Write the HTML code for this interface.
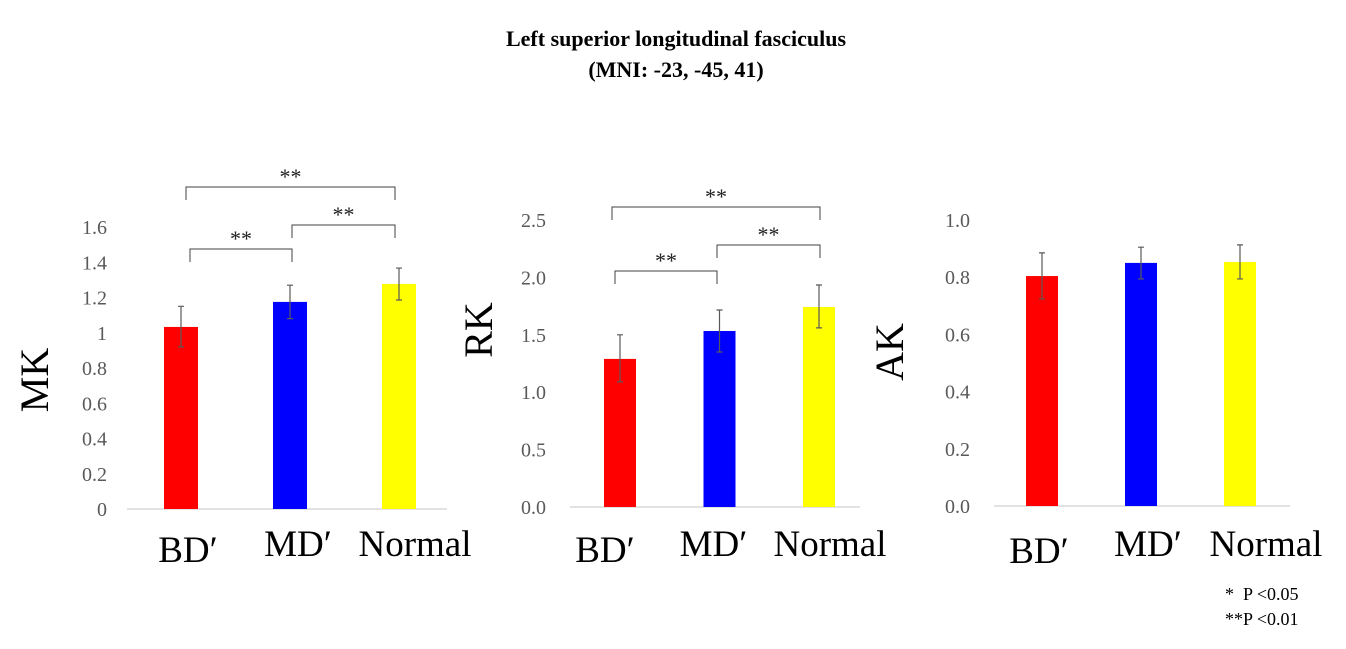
<!DOCTYPE html>
<html><head><meta charset="utf-8"><style>
html,body{margin:0;padding:0;background:#fff;}
svg{display:block;font-family:"Liberation Serif",serif;}
</style></head><body>
<svg id="chart" width="1346" height="649" viewBox="0 0 1346 649">
<text x="676" y="46" text-anchor="middle" font-size="22" font-weight="bold">Left superior longitudinal fasciculus</text>
<text x="676" y="77" text-anchor="middle" font-size="22" font-weight="bold">(MNI: -23, -45, 41)</text>
<text x="1225" y="600" font-size="18" xml:space="preserve">*  P &lt;0.05</text>
<text x="1225" y="625" font-size="18">**P &lt;0.01</text>
</svg>
<script>
const categories = ["BD′", "MD′", "Normal"];
const colors = ["#ff0000", "#0000ff", "#ffff00"];
const mkValues = [1.033, 1.175, 1.277];
const mkErrUp = [1.15, 1.27, 1.367];
const mkErrLo = [0.92, 1.08, 1.186];
const mkTicks = ["0","0.2","0.4","0.6","0.8","1","1.2","1.4","1.6"];
const rkValues = [1.29, 1.533, 1.742];
const rkErrUp = [1.5, 1.716, 1.934];
const rkErrLo = [1.09, 1.35, 1.56];
const rkTicks = ["0.0","0.5","1.0","1.5","2.0","2.5"];
const akValues = [0.804, 0.85, 0.853];
const akErrUp = [0.885, 0.905, 0.913];
const akErrLo = [0.724, 0.794, 0.794];
const akTicks = ["0.0","0.2","0.4","0.6","0.8","1.0"];

const svg = document.getElementById('chart');
const NS = "http://www.w3.org/2000/svg";
function mk(tag, attrs){const e=document.createElementNS(NS,tag);for(const k in attrs)e.setAttribute(k,attrs[k]);svg.appendChild(e);return e;}

function panel(cfg){
  const y = v => cfg.base - (v - 0)/cfg.max * (cfg.base - cfg.top);
  const x = i => cfg.c0 + i*cfg.step;
  cfg.ticks.forEach(t=>{
    const tx = mk('text',{x:cfg.tickX,y:y(parseFloat(t))+7,'text-anchor':'end','font-size':20,fill:'#595959'});
    
    
    tx.textContent=t;
  });
  const ax = mk('line',{x1:cfg.ax0,x2:cfg.ax1,y1:cfg.base,y2:cfg.base,stroke:'#d9d9d9','stroke-width':1.5});
  
  
  cfg.values.forEach((v,i)=>{
    const b = mk('rect',{x:x(i)-cfg.bw/2,y:y(v),width:cfg.bw,height:cfg.base-y(v),fill:colors[i]});
    
    
    const e = mk('path',{d:`M${x(i)} ${y(cfg.up[i])}V${y(cfg.lo[i])}M${x(i)-3} ${y(cfg.up[i])}h6M${x(i)-3} ${y(cfg.lo[i])}h6`,stroke:'#595959','stroke-width':1.2,fill:'none'});
    
    
    const l = mk('text',{x:x(i)+cfg.labelDx[i],y:cfg.labelY[i],'text-anchor':'middle','font-size':37});
    
    
    l.textContent = categories[i];
  });
  const t = mk('text',{x:0,y:0,'text-anchor':'middle','font-size':40,transform:`translate(${cfg.titleX},${cfg.titleY}) rotate(-90)`});
  
  
  t.textContent = cfg.title;
  (cfg.brackets||[]).forEach(br=>{
    const p = mk('path',{d:`M${br[0]} ${br[2]+13}V${br[2]}H${br[1]}V${br[2]+13}`,stroke:'#404040','stroke-width':1,fill:'none'});
    
    
    const s = mk('text',{x:(br[0]+br[1])/2,y:br[2]-3,'text-anchor':'middle','font-size':22,fill:'#222'});
    
    
    s.textContent='**';
  });
}
panel({id:'mk',base:509,top:227,max:1.6,c0:181,step:109,bw:34,ax0:127,ax1:447,tickX:107,values:mkValues,up:mkErrUp,lo:mkErrLo,ticks:mkTicks,title:'MK',titleX:48,titleY:380,labelY:[562,556,556],labelDx:[7,8,16],
  brackets:[[186,395,187],[190,292,249],[292,395,225]]});
panel({id:'rk',base:507,top:220,max:2.5,c0:620,step:99.5,bw:32,ax0:570,ax1:860,tickX:546,values:rkValues,up:rkErrUp,lo:rkErrLo,ticks:rkTicks,title:'RK',titleX:492,titleY:330,labelY:[562,556,556],labelDx:[-15,-6,11],
  brackets:[[612,820,207],[615,717,271],[717,820,245]]});
panel({id:'ak',base:506,top:220,max:1.0,c0:1042,step:99,bw:32,ax0:994,ax1:1290,tickX:970,values:akValues,up:akErrUp,lo:akErrLo,ticks:akTicks,title:'AK',titleX:903,titleY:352,labelY:[563,556,556],labelDx:[-3,7,26]});
</script>
</body></html>
